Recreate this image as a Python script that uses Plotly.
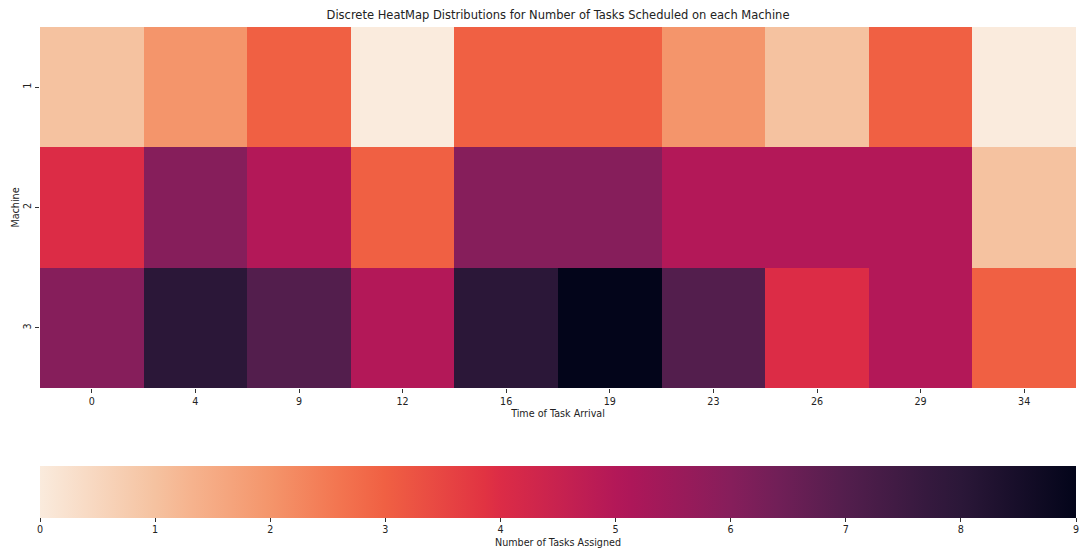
import plotly.graph_objects as go

# Arrival times (columns) and machines (rows)
arrival_times = ["0", "4", "9", "12", "16", "19", "23", "26", "29", "34"]
machines = ["1", "2", "3"]

# Number of tasks assigned per machine at each arrival time
machine_1 = [1, 2, 3, 0, 3, 3, 2, 1, 3, 0]
machine_2 = [4, 6, 5, 3, 6, 6, 5, 5, 5, 1]
machine_3 = [6, 8, 7, 5, 8, 9, 7, 4, 5, 3]

# Reversed "rocket" colour ramp (light -> dark)
rocket_r = [
    [0.000, "#faebdd"],
    [0.111, "#f5c2a0"],
    [0.143, "#f6b48f"],
    [0.222, "#f4956b"],
    [0.286, "#f37651"],
    [0.333, "#f06043"],
    [0.429, "#e13342"],
    [0.444, "#dc2c46"],
    [0.556, "#b31858"],
    [0.571, "#ad1759"],
    [0.667, "#861e5b"],
    [0.714, "#701f57"],
    [0.778, "#531e4d"],
    [0.857, "#35193e"],
    [0.889, "#2b1738"],
    [1.000, "#03051a"],
]

font = "DejaVu Sans"
small = 9.6

fig = go.Figure(
    go.Heatmap(
        z=[machine_1, machine_2, machine_3],
        x=arrival_times,
        y=machines,
        zmin=0,
        zmax=9,
        colorscale=rocket_r,
        colorbar=dict(
            orientation="h",
            x=0.5,
            xanchor="center",
            y=-0.216,
            yanchor="top",
            len=1.0,
            lenmode="fraction",
            thickness=52,
            xpad=0,
            ypad=0,
            outlinewidth=0,
            ticks="outside",
            ticklen=4,
            tickcolor="#333333",
            tickvals=list(range(10)),
            tickfont=dict(family=font, size=small, color="#222222"),
            title=dict(
                text="Number of Tasks Assigned",
                side="bottom",
                font=dict(family=font, size=small, color="#222222"),
            ),
        ),
        hoverongaps=False,
    )
)

fig.update_layout(
    width=1081,
    height=550,
    margin=dict(l=40, r=5, t=27, b=162, autoexpand=False),
    paper_bgcolor="white",
    plot_bgcolor="white",
    title=dict(
        text="Discrete HeatMap Distributions for Number of Tasks Scheduled on each Machine",
        xref="paper",
        x=0.5,
        xanchor="center",
        y=0.972,
        yanchor="middle",
        font=dict(family=font, size=11.5, color="#222222"),
    ),
    font=dict(family=font, size=small, color="#222222"),
)

fig.update_xaxes(
    type="category",
    ticks="outside",
    ticklen=4,
    tickcolor="#333333",
    showgrid=False,
    zeroline=False,
    showline=False,
    tickfont=dict(family=font, size=small, color="#222222"),
    title=dict(text="Time of Task Arrival", standoff=4,
               font=dict(family=font, size=small, color="#222222")),
)

fig.update_yaxes(
    type="category",
    autorange="reversed",
    ticks="outside",
    ticklen=4,
    tickcolor="#333333",
    tickangle=-90,
    showgrid=False,
    zeroline=False,
    showline=False,
    tickfont=dict(family=font, size=small, color="#222222"),
    title=dict(text="Machine", standoff=0,
               font=dict(family=font, size=small, color="#222222")),
)

fig.write_html("out.html")
